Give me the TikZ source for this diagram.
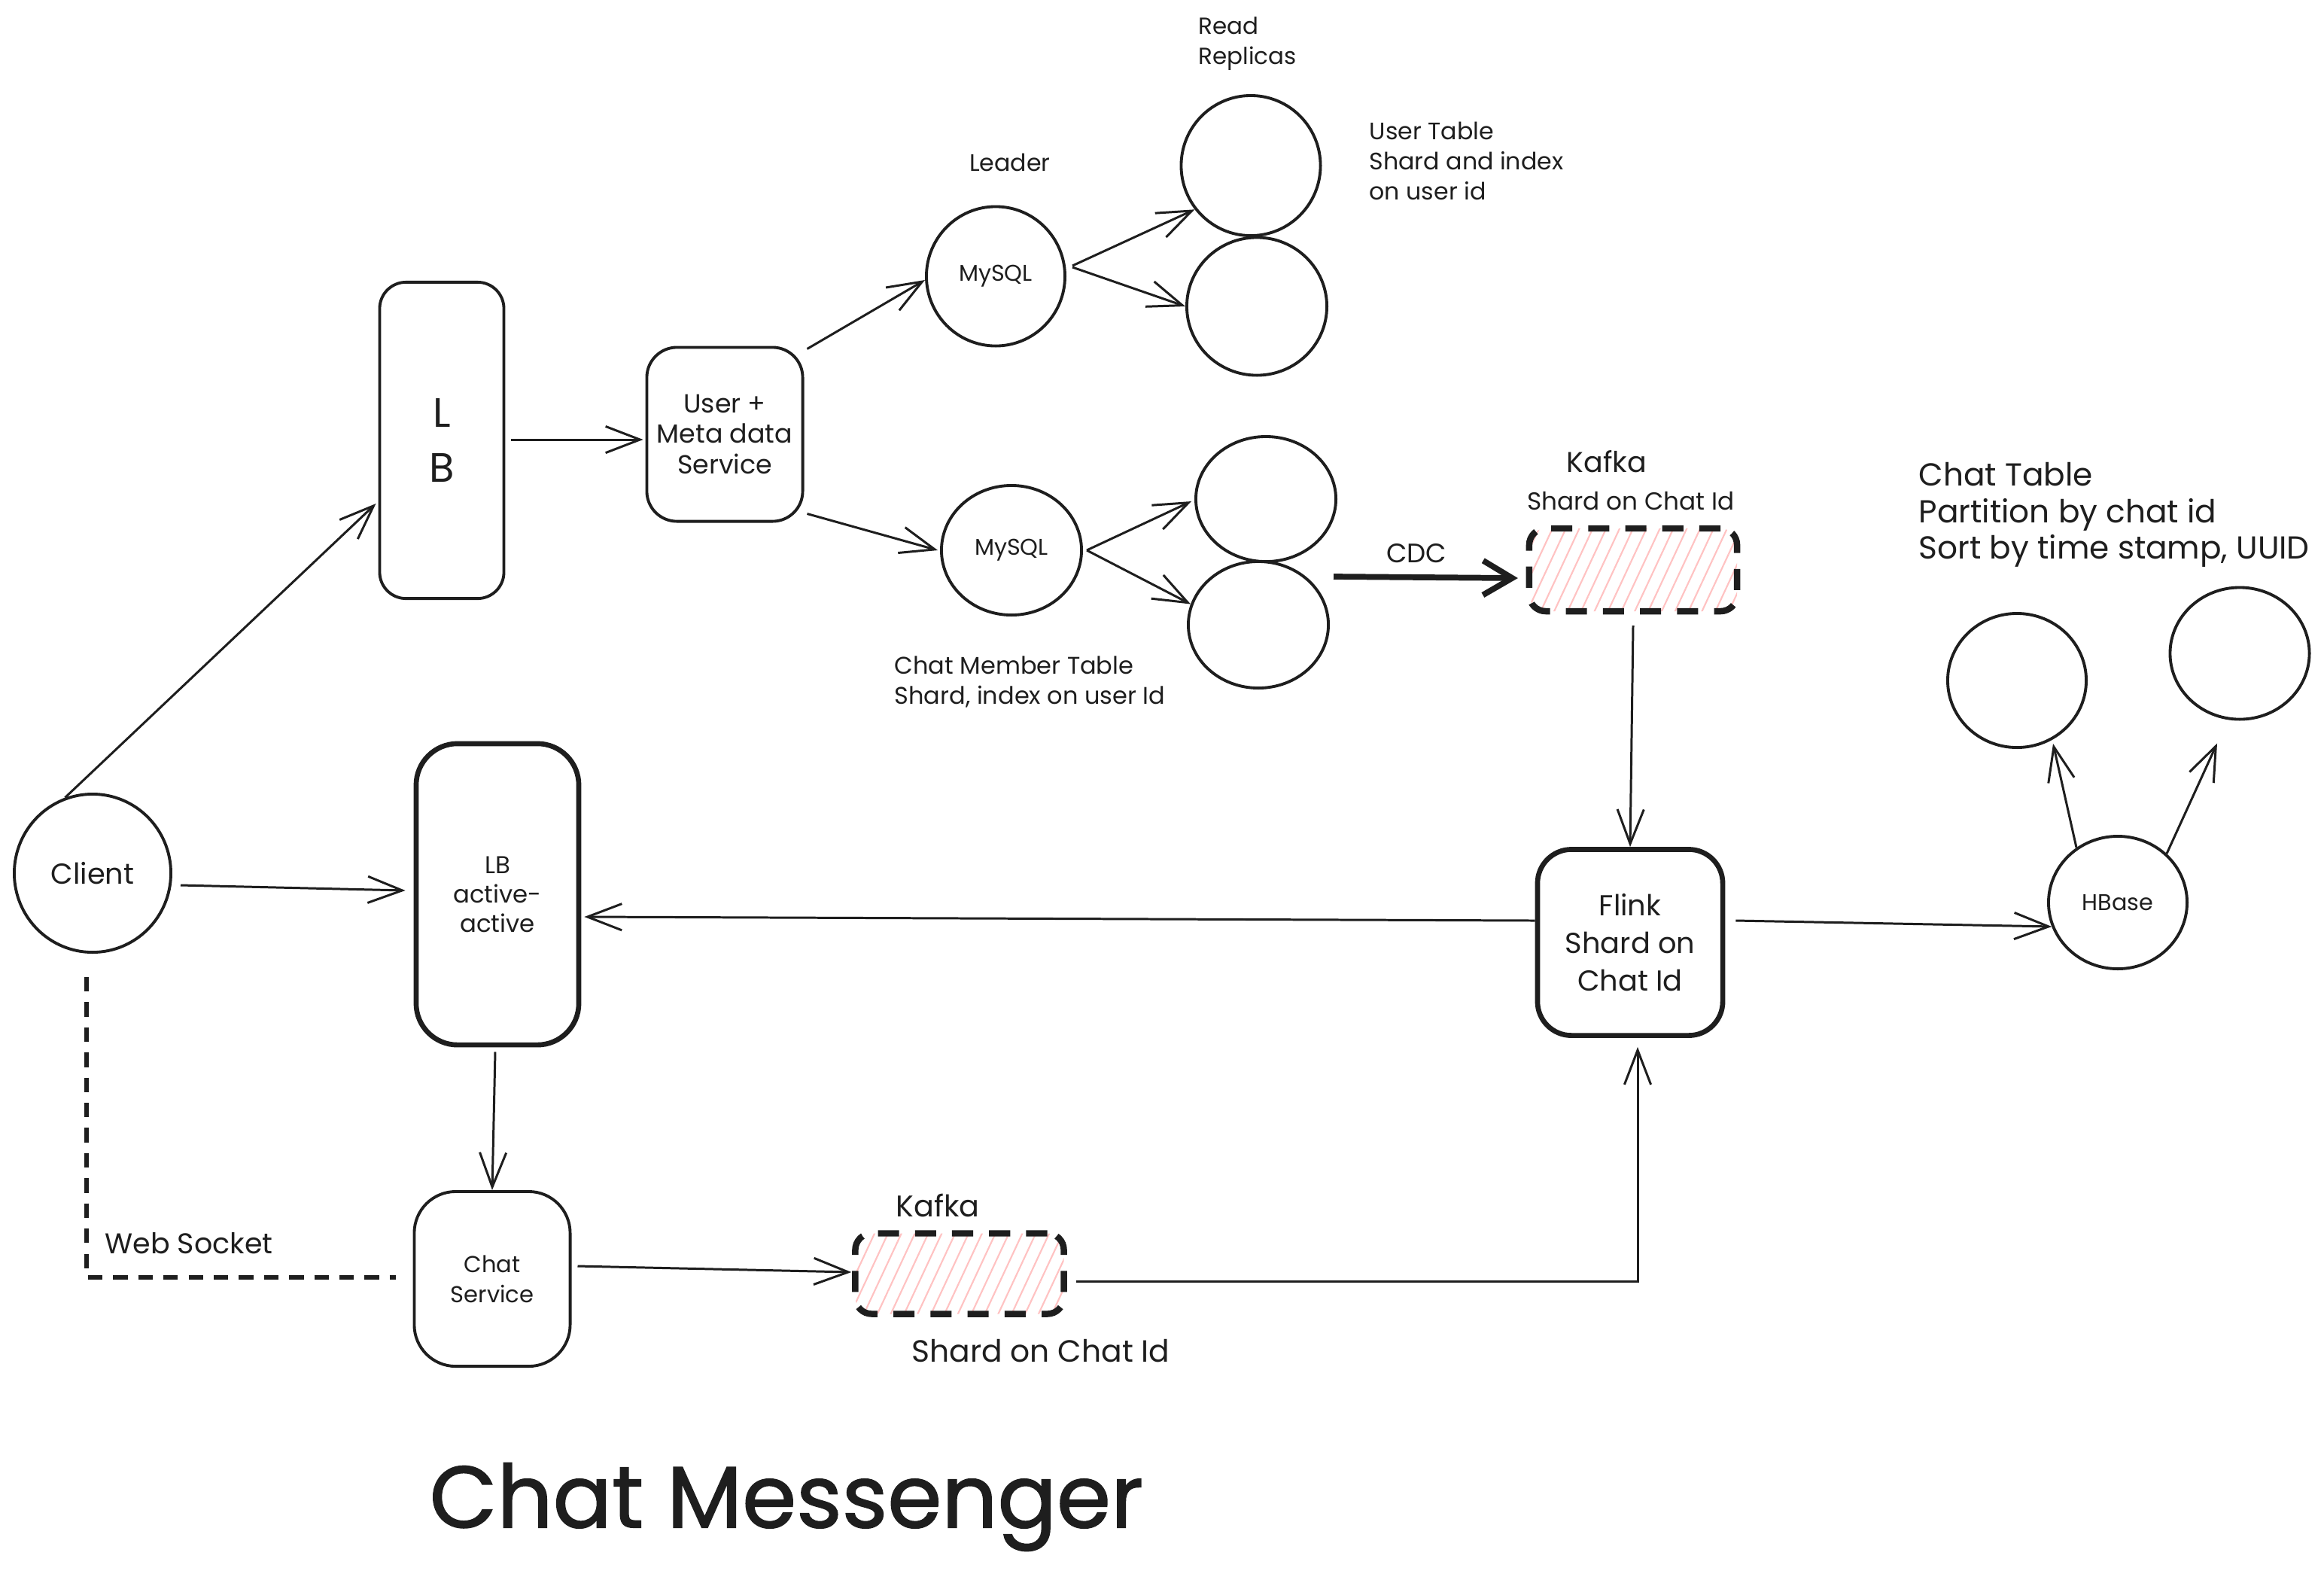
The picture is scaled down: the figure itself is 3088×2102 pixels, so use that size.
\documentclass[tikz,border=0pt]{standalone}
\usepackage{fontspec}
\setmainfont{Poppins}
\newfontfamily\titlefont[FakeBold=1.3]{Poppins}
\usetikzlibrary{arrows.meta,patterns.meta,shapes.geometric,calc}
\definecolor{ink}{HTML}{1E1E1E}
\definecolor{hatchpink}{HTML}{FFC2C2}
\newcommand{\fsz}[2]{\fontsize{#1}{#2}\selectfont}
\begin{document}
\begin{tikzpicture}[x=0.01cm,y=-0.01cm,
  every node/.style={text=ink},
  box/.style={draw=ink,line width=1.1pt,rounded corners=0.4cm,align=center,inner sep=0pt},
  thickbox/.style={box,line width=1.9pt,rounded corners=0.5cm},
  circ/.style={draw=ink,line width=1.1pt,ellipse,inner sep=0pt,align=center},
  kafkabox/.style={draw=ink,line width=2.4pt,dash pattern=on 8pt off 6pt,rounded corners=0.22cm,
     pattern={Lines[angle=65,distance=4.6pt,line width=0.6pt]},pattern color=hatchpink,inner sep=0pt},
  arr/.style={draw=ink,line width=0.85pt,-{Straight Barb[length=13pt,width=10pt]}},
  cdcarr/.style={draw=ink,line width=2.2pt,-{Straight Barb[length=11pt,width=13pt]}},
  wsline/.style={draw=ink,line width=1.5pt,dash pattern=on 5.5pt off 4pt},
  lbl/.style={inner sep=0pt,align=left},
]
\fill[white] (0,0) rectangle (3088,2102);
\useasboundingbox (0,0) rectangle (3088,2102);

% ---- nodes ----
\node[circ,minimum width=2.08cm,minimum height=2.1cm,font=\fsz{10.9}{13}] (client) at (123,1160) {Client};
\node[box,rounded corners=0.35cm,minimum width=1.65cm,minimum height=4.2cm,font=\fsz{15.5}{20.8}] (lb) at (587,585) {L\\B};
\node[box,rounded corners=0.4cm,minimum width=2.07cm,minimum height=2.31cm,font=\fsz{9.9}{11.4}] (usr) at (963,577) {User +\\Meta data\\Service};
\node[circ,minimum width=1.84cm,minimum height=1.85cm,font=\fsz{8.6}{10}] (lead) at (1323,367) {MySQL};
\node[circ,minimum width=1.85cm,minimum height=1.86cm] (r1) at (1662,220) {};
\node[circ,minimum width=1.86cm,minimum height=1.83cm] (r2) at (1670,407) {};
\node[circ,minimum width=1.86cm,minimum height=1.72cm,font=\fsz{8.6}{10}] (cm) at (1344,731) {MySQL};
\node[circ,minimum width=1.86cm,minimum height=1.66cm] (r3) at (1682,663) {};
\node[circ,minimum width=1.86cm,minimum height=1.68cm] (r4) at (1672,830) {};

\node[lbl,font=\fsz{9.0}{11}] (leadlbl) at (1342,216) {Leader};
\node[lbl,anchor=west,font=\fsz{8.8}{11.6}] (rrlbl) at (1592,58) {Read\\Replicas};
\node[lbl,anchor=west,font=\fsz{9.0}{11.4}] (utlbl) at (1819,214) {User Table\\Shard and index\\on user id};
\node[lbl,anchor=west,font=\fsz{9.1}{11.2}] (cmlbl) at (1188,906) {Chat Member Table\\Shard, index on user Id};

\node[kafkabox,minimum width=2.76cm,minimum height=1.10cm] (k1) at (2170,757) {};
\node[lbl,font=\fsz{10.8}{12}] (k1a) at (2135,613) {Kafka};
\node[lbl,font=\fsz{9.3}{11}] (k1b) at (2167,666) {Shard on Chat Id};
\node[lbl,font=\fsz{10.1}{12}] (cdc) at (1882,735) {CDC};
\coordinate (cdcstart) at (1772,766);

\node[thickbox,rounded corners=0.45cm,minimum width=2.46cm,minimum height=2.47cm,font=\fsz{10.9}{14.3}] (flink) at (2166,1252) {Flink\\Shard on\\Chat Id};
\node[circ,minimum width=1.84cm,minimum height=1.76cm,font=\fsz{8.6}{10}] (hb) at (2814,1199) {HBase};
\node[circ,minimum width=1.84cm,minimum height=1.78cm] (ct1) at (2680,904) {};
\node[circ,minimum width=1.85cm,minimum height=1.75cm] (ct2) at (2976,868) {};
\node[lbl,anchor=west,font=\fsz{12.0}{13.7}] (ctlbl) at (2549,684) {Chat Table\\Partition by chat id\\Sort by time stamp, UUID};

\node[thickbox,rounded corners=0.55cm,minimum width=2.16cm,minimum height=4.0cm,font=\fsz{9.2}{11.1}] (lba) at (661,1188) {LB\\active-\\active};
\node[box,rounded corners=0.55cm,minimum width=2.07cm,minimum height=2.32cm,font=\fsz{8.7}{11.4}] (cs) at (654,1699) {Chat\\Service};
\node[kafkabox,minimum width=2.77cm,minimum height=1.07cm] (k2) at (1275,1692) {};
\node[lbl,font=\fsz{11.3}{12}] (k2a) at (1246,1601) {Kafka};
\node[lbl,font=\fsz{11.6}{13}] (k2b) at (1383,1795) {Shard on Chat Id};
\node[lbl,font=\fsz{10.8}{12}] (ws) at (251,1652) {Web Socket};
\node[lbl,font=\titlefont\fsz{33}{36}] (title) at (1045,2002) {Chat Messenger};

% ---- connectors ----
\draw[arr] (client.110) -- ($(lb.west)+(-3,84)$);
\draw[arr] ($(client.east)+(11,16)$) -- ($(lba.west)+(-11,-5)$);
\draw[arr] ($(lb.east)+(8,-1)$) -- ($(usr.west)+(-3,7)$);
\draw[arr] ($(usr.north east)+(4,4)$) -- ($(lead.west)+(0,5)$);
\draw[arr] ($(usr.south east)+(4,-12)$) -- ($(cm.west)+(-3,0)$);
\draw[arr] ($(lead.east)+(8,-14)$) -- (r1.218);
\draw[arr] ($(lead.east)+(8,-12)$) -- (r2.west);
\draw[arr] ($(cm.east)+(5,0)$) -- ($(r3.west)+(-4,3)$);
\draw[arr] ($(cm.east)+(5,0)$) -- (r4.163);
\draw[cdcarr] (cdcstart) -- ($(k1.west)+(-14,11)$);
\draw[arr] ($(k1.south)+(0,18)$) -- (flink.north);
\draw[arr] ($(flink.west)+(0,-29)$) -- ($(lba.east)+(4,30)$);
\draw[arr] ($(flink.east)+(14,-29)$) -- (hb.200);
\draw[arr] (hb.127) -- ($(ct1.south)+(48,-7)$);
\draw[arr] (hb.45) -- ($(ct2.south)+(-30,30)$);
\draw[arr] ($(lba.south)+(-3,6)$) -- (cs.north);
\draw[arr] ($(cs.east)+(8,-17)$) -- ($(k2.west)+(-1,-2)$);
\draw[arr] ($(k2.east)+(12,10)$) -| ($(flink.south)+(10,12)$);
\draw[wsline] ($(client.south)+(-8,31)$) |- ($(cs.west)+(-23,-2)$);
\end{tikzpicture}
\end{document}
